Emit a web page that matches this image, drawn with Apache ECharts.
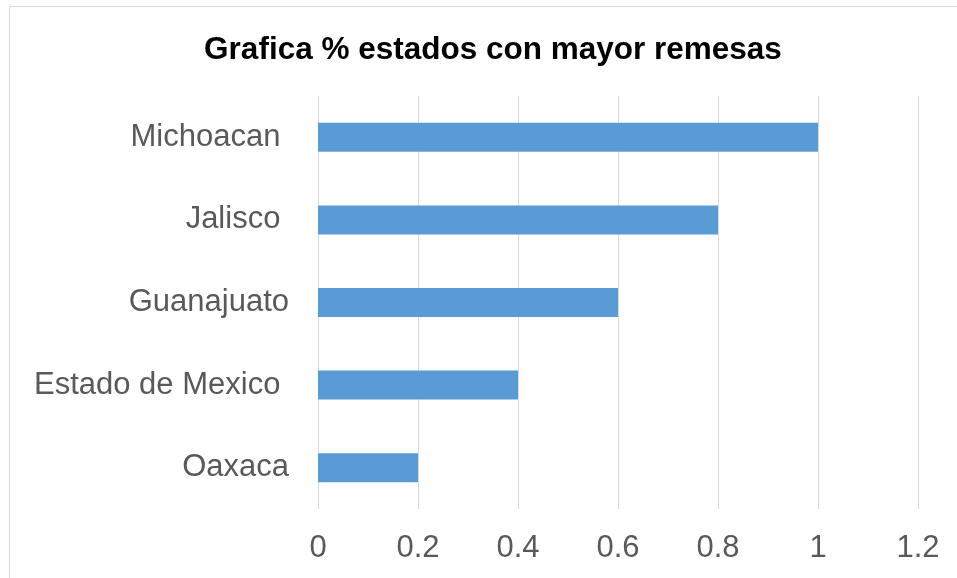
<!DOCTYPE html>
<html>
<head>
<meta charset="utf-8">
<script src="https://cdn.jsdelivr.net/npm/echarts@6/dist/echarts.min.js"></script>
<style>
html,body{margin:0;padding:0;background:#fff;}
#chart{width:957px;height:578px;}
</style>
</head>
<body>
<div id="chart"></div>
<script>
var titleText = 'Grafica % estados con mayor remesas';
var categories = ['Michoacan ', 'Jalisco ', 'Guanajuato', 'Estado de Mexico ', 'Oaxaca'];
var values = [1, 0.8, 0.6, 0.4, 0.2];
var xTicks = { min: 0, max: 1.2, interval: 0.2 };

var chart = echarts.init(document.getElementById('chart'));
chart.setOption({
  animation: false,
  backgroundColor: '#ffffff',
  graphic: [{
    type: 'rect',
    shape: { x: 9.5, y: 6.5, width: 1200, height: 1200 },
    style: { fill: 'none', stroke: '#d9d9d9', lineWidth: 1 },
    silent: true, z: -1
  }],
  title: {
    text: titleText,
    left: 488,
    textAlign: 'center',
    top: 29,
    textStyle: { fontFamily: 'Liberation Sans, Arial, sans-serif', fontWeight: 'bold', fontSize: 31.5, color: '#000000' }
  },
  grid: { left: 318, right: 39, top: 96, bottom: 69, containLabel: false },
  xAxis: {
    type: 'value',
    min: xTicks.min, max: xTicks.max, interval: xTicks.interval,
    axisLine: { show: false },
    axisTick: { show: false },
    splitLine: { show: true, lineStyle: { color: '#d9d9d9', width: 1 } },
    axisLabel: {
      margin: 24,
      fontFamily: 'Liberation Sans, Arial, sans-serif', fontSize: 31, color: '#595959',
      formatter: function (v) { return String(Math.round(v * 10) / 10); }
    }
  },
  yAxis: {
    type: 'category',
    data: categories,
    inverse: true,
    axisLine: { show: false },
    axisTick: { show: false },
    splitLine: { show: false },
    axisLabel: {
      margin: 29,
      fontFamily: 'Liberation Sans, Arial, sans-serif', fontSize: 31, color: '#595959'
    }
  },
  series: [{
    type: 'bar',
    data: values,
    barWidth: 29,
    itemStyle: { color: '#5B9BD5' }
  }]
});
</script>
</body>
</html>
